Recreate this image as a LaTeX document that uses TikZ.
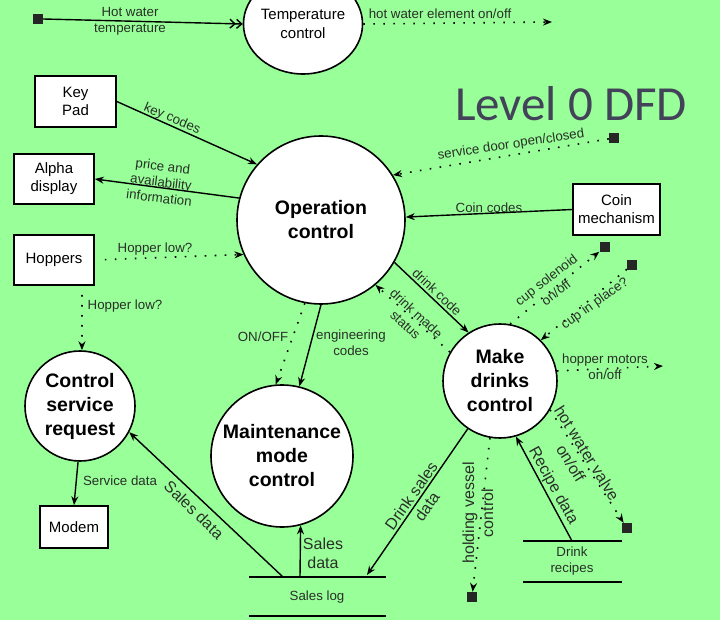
\documentclass[tikz,border=0pt]{standalone}
\usepackage{fontspec}
\setmainfont{Liberation Sans}
\newfontfamily\titlefont{Carlito}
\usetikzlibrary{arrows.meta,shapes.geometric}
\definecolor{bgc}{RGB}{153,255,153}
\definecolor{titlec}{RGB}{66,66,88}
\definecolor{labc}{RGB}{40,48,40}
\begin{document}
\begin{tikzpicture}[x=1pt,y=-1pt,
  proc/.style={circle, draw, line width=1.6pt, fill=white, inner sep=0pt, align=center,
    font=\bfseries\fontsize{19.5}{24}\selectfont},
  ext/.style={rectangle, draw, line width=1.6pt, fill=white, inner sep=0pt, align=center,
    font=\fontsize{15}{18}\selectfont},
  lbl/.style={font=\fontsize{13.3}{16}\selectfont, text=labc, align=center, inner sep=0.5pt},
  biglbl/.style={font=\fontsize{16}{19}\selectfont, text=labc, align=center, inner sep=0.5pt},
  flow/.style={line width=1.4pt, -{Stealth[length=9pt,width=7pt]}},
  dflow/.style={line width=1.4pt, -{Straight Barb[length=5pt,width=9pt] Straight Barb[length=5pt,width=9pt]}},
  cflow/.style={line width=1.6pt, dash pattern=on 1.6pt off 8.4pt, -{Stealth[length=9pt,width=7pt]}},
  sq/.style={rectangle, fill=black!85, minimum size=10pt, inner sep=0pt},
  storeline/.style={line width=1.6pt}]
\fill[bgc] (0,0) rectangle (720,620);
\useasboundingbox (0,0) rectangle (720,620);

% title
\node[font=\titlefont\fontsize{49}{55}\selectfont, text=titlec] (title) at (571,104) {Level 0 DFD};

% processes
\node[ellipse, draw, fill=white, line width=1.6pt, minimum width=98pt, minimum height=100pt,
  inner sep=0pt, align=center, font=\fontsize{15}{19}\selectfont] (tc) at (303,24) {Temperature\\control};
\node[proc, minimum size=168pt] (op) at (321,220) {Operation\\control};
\node[proc, minimum size=114pt] (md) at (500,381) {Make\\drinks\\control};
\node[proc, minimum size=142pt] (mm) at (282,456) {Maintenance\\mode\\control};
\node[proc, minimum size=110pt] (csr) at (80,406) {Control\\service\\request};

% external entities
\node[ext, minimum width=81pt, minimum height=51pt] (kp) at (75.5,101.5) {Key\\Pad};
\node[ext, minimum width=80pt, minimum height=50pt] (ad) at (54,179) {Alpha\\display};
\node[ext, minimum width=80pt, minimum height=50pt] (hop) at (54,260) {Hoppers};
\node[ext, minimum width=87pt, minimum height=51pt] (cm) at (616.5,209.5) {Coin\\mechanism};
\node[ext, minimum width=68pt, minimum height=42pt] (modem) at (74,527) {Modem};

% terminators (small squares)
\node[sq] (sqHot) at (38,19) {};
\node[sq] (sqDoor) at (614,138) {};
\node[sq] (sqSol) at (604.5,247.5) {};
\node[sq] (sqCup) at (632,265) {};
\node[sq] (sqVal) at (627,528) {};
\node[sq] (sqHold) at (472,597) {};

% data stores
\draw[storeline] (249,577) -- (386,577);
\draw[storeline] (249,616) -- (386,616);
\node[lbl] (slog) at (317,597) {Sales log};
\draw[storeline] (523,541) -- (622,541);
\draw[storeline] (523,582) -- (622,582);
\node[lbl] (drec) at (572,561) {Drink\\recipes};

% free ends
\coordinate (hwe) at (552,22);
\coordinate (hme) at (663,366);
\coordinate (sl1) at (283,577);
\coordinate (sl2) at (300,577);
\coordinate (sl3) at (367,575);
\coordinate (dr1) at (572,541);
\coordinate (hopS) at (82,287);

% flows
\draw[dflow] (sqHot.east) -- (tc.west);
\draw[cflow] (tc.east) -- (hwe);
\draw[flow] (kp.east) -- (op.139);
\draw[flow] (op.165) -- (ad.east);
\draw[cflow, shorten <=10pt] (hop.east) -- (op.204);
\draw[cflow, shorten <=8pt] (hopS) -- (csr.88);
\draw[cflow] (sqDoor) -- (op.32);
\draw[flow] (cm.west) -- (op.2);
\draw[flow] (op.-30) -- (md.123);
\draw[cflow] (md.150) -- (op.-50);
\draw[cflow] (md.80) -- (sqSol);
\draw[cflow] (sqCup) -- (md.45);
\draw[cflow] (md.10) -- (hme);
\draw[cflow] (md.-30) -- (sqVal);
\draw[flow] (dr1) -- (md.-74);
\draw[cflow] (md.-100) -- (sqHold);
\draw[flow] (md.-124) -- (sl3);
\draw[flow] (sl2) -- (mm.-75);
\draw[flow] (sl1) -- (csr.-28);
\draw[flow] (csr.-92) -- (modem.north);
\draw[cflow] (op.-101) -- (mm.95);
\draw[flow] (op.-90) -- (mm.76);

% labels
\node[lbl] (lhwt) at (130,21) {Hot water\\temperature};
\node[lbl] (lhwe) at (440,14) {hot water element on/off};
\node[lbl, rotate=-23] (lkey) at (172,119) {key codes};
\node[lbl, rotate=-7] (lprice) at (161,182) {price and\\availability\\information};
\node[lbl] (lhop1) at (155,249) {Hopper low?};
\node[lbl] (lhop2) at (125,306) {Hopper low?};
\node[lbl, rotate=8.5] (ldoor) at (511,145) {service door open/closed};
\node[lbl] (lcoin) at (489,208) {Coin codes};
\node[lbl, rotate=-43] (ldc) at (437,292) {drink code};
\node[lbl, rotate=-43] (ldm) at (411,319) {drink made\\status};
\node[lbl] (lonoff) at (263,337) {ON/OFF};
\node[lbl] (leng) at (351,343) {engineering\\codes};
\node[lbl, rotate=38] (lsol) at (551,286) {cup solenoid\\on/off};
\node[lbl, rotate=35] (lcup) at (595,304) {cup in place?};
\node[lbl] (lhm) at (605,367) {hopper motors\\on/off};
\node[biglbl, rotate=-58] (lhwv) at (579,458) {hot water valve\\on/off};
\node[biglbl, rotate=-61] (lrec) at (553,486) {Recipe data};
\node[biglbl, rotate=90] (lhold) at (478,513) {holding vessel\\control};
\node[biglbl, rotate=55] (lds) at (419,501) {Drink sales\\data};
\node[biglbl, rotate=-44] (lsd) at (194,510) {Sales data};
\node[biglbl] (lsd2) at (323,553) {Sales\\data};
\node[lbl] (lsvc) at (120,481) {Service data};
\end{tikzpicture}
\end{document}
